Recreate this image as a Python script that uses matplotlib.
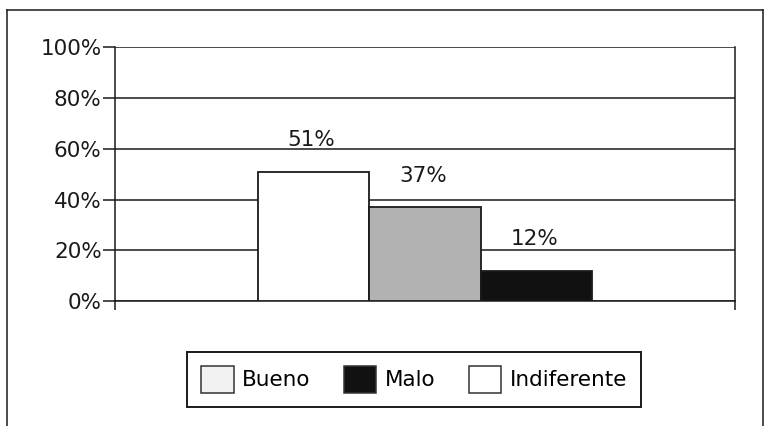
import matplotlib.pyplot as plt
from matplotlib.patches import Patch
from matplotlib.lines import Line2D
from matplotlib.ticker import FuncFormatter

# datos del grafico
valores = [51, 37, 12]
etiquetas_barras = ['51%', '37%', '12%']
colores_barras = ['white', '#b2b2b2', '#111111']
leyenda_nombres = ['Bueno', 'Malo', 'Indiferente']
leyenda_colores = ['#f2f2f2', '#111111', 'white']
ticks_y = [0, 20, 40, 60, 80, 100]

plt.rcParams['font.family'] = ['DejaVu Sans']
tinta = '#1a1a1a'

fig = plt.figure(figsize=(7.7, 4.26), dpi=100)
ax = fig.add_axes([0.1494, 0.2934, 0.8051, 0.5951])

ancho = 0.18
posiciones = [0.5 + (i - 1) * ancho for i in range(len(valores))]
ax.bar(posiciones, valores, width=ancho, color=colores_barras,
       edgecolor=tinta, linewidth=1.3, zorder=3)

for x, v, txt in zip(posiciones, valores, etiquetas_barras):
    ax.annotate(txt, (x, v), xytext=(-1.5, 22.5), textcoords='offset points',
                ha='center', va='center', fontsize=15.5, color=tinta)

ax.set_xlim(0, 1)
ax.set_ylim(0, 100)
ax.set_yticks(ticks_y)
ax.yaxis.set_major_formatter(FuncFormatter(lambda v, p: f'{int(v)}%'))
ax.set_xticks([0, 1])
ax.set_xticklabels(['', ''])
ax.tick_params(axis='y', length=8.6, width=1.1, color=tinta, pad=1,
               labelsize=15.5, labelcolor=tinta)
ax.tick_params(axis='x', length=6.5, width=1.1, color=tinta)
ax.grid(axis='y', color=tinta, linewidth=1.1, zorder=0)
for lado in ['left', 'right', 'bottom']:
    ax.spines[lado].set_color(tinta)
    ax.spines[lado].set_linewidth(1.1)
ax.spines['top'].set_visible(False)

handles = [Patch(facecolor=c, edgecolor='#333333', linewidth=1.1)
           for c in leyenda_colores]
leg = fig.legend(handles, leyenda_nombres, loc='center',
                 bbox_to_anchor=(0.538, 0.110), ncol=3, fontsize=15.5,
                 handlelength=1.5, handleheight=1.55, handletextpad=0.4,
                 columnspacing=1.55, borderpad=0.65, fancybox=False,
                 framealpha=1)
leg.get_frame().set_edgecolor(tinta)
leg.get_frame().set_linewidth(1.4)

# marco exterior
fig.add_artist(Line2D([7 / 770, 763 / 770], [1 - 10 / 426, 1 - 10 / 426],
                      color=tinta, linewidth=1.1, transform=fig.transFigure))
fig.add_artist(Line2D([7 / 770, 7 / 770], [0, 1 - 10 / 426],
                      color=tinta, linewidth=1.1, transform=fig.transFigure))
fig.add_artist(Line2D([763 / 770, 763 / 770], [0, 1 - 10 / 426],
                      color=tinta, linewidth=1.1, transform=fig.transFigure))

fig.savefig('out.png', dpi=100)
